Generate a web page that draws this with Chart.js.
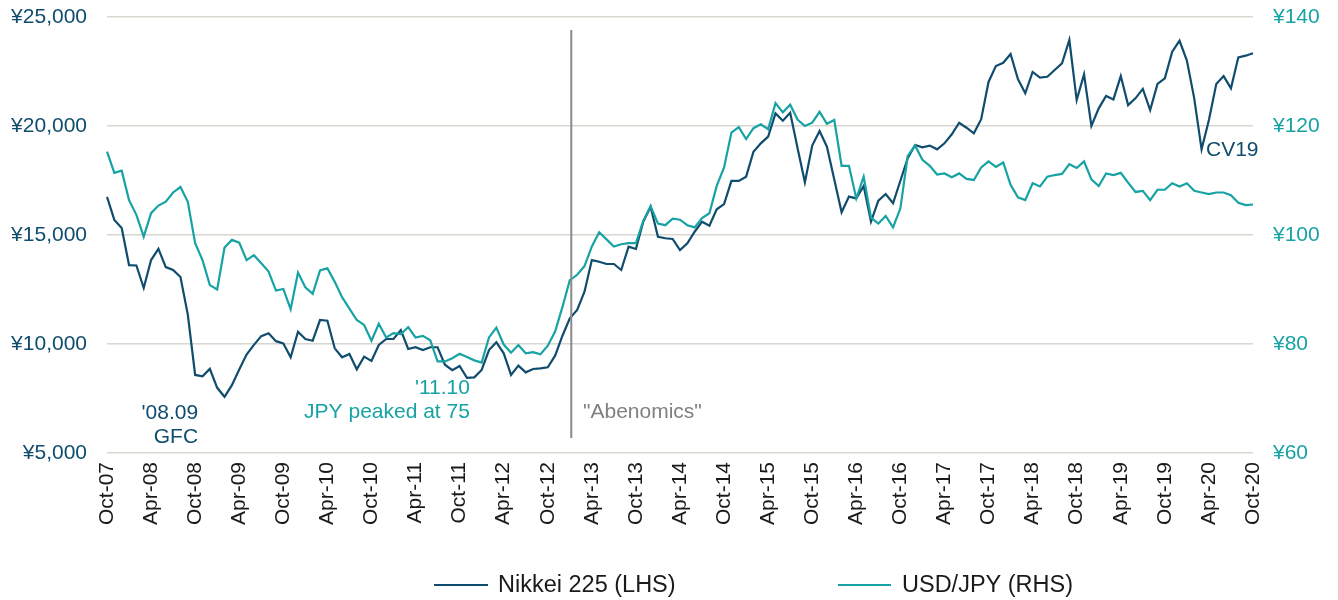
<!DOCTYPE html>
<html>
<head>
<meta charset="utf-8">
<script src="https://cdn.jsdelivr.net/npm/chart.js@4.4.0/dist/chart.umd.min.js"></script>
<style>
  html, body { margin: 0; padding: 0; background: #fff; }
</style>
</head>
<body>
<canvas id="Chart" width="1338" height="600"></canvas>
<script>
// monthly, Oct-07 .. Oct-20
const monthNames = ['Jan','Feb','Mar','Apr','May','Jun','Jul','Aug','Sep','Oct','Nov','Dec'];
const labels = [];
for (let i = 0; i < 157; i++) {
    let m = (9 + i) % 12;
    let yr = 7 + Math.floor((9 + i) / 12);
    labels.push(monthNames[m] + '-' + String(yr).padStart(2, '0'));
}

const nikkei = [
    16750, 15690, 15320,
    13620, 13600, 12570, 13850, 14360, 13530, 13400, 13070, 11350, 8580, 8520, 8860,
    7990, 7580, 8110, 8830, 9520, 9960, 10360, 10490, 10130, 10030, 9390, 10560,
    10230, 10150, 11100, 11070, 9800, 9390, 9540, 8840, 9420, 9220, 9955, 10230,
    10230, 10640, 9770, 9850, 9725, 9850, 9850, 9050, 8800, 8990, 8450, 8470,
    8810, 9725, 10080, 9575, 8580, 9005, 8700, 8855, 8885, 8930, 9465, 10380,
    11180, 11560, 12400, 13850, 13775, 13670, 13670, 13395, 14465, 14360, 15610, 16300,
    14920, 14850, 14820, 14310, 14620, 15150, 15610, 15430, 16180, 16420, 17480, 17480,
    17675, 18820, 19205, 19510, 20580, 20245, 20610, 18990, 17420, 19100, 19770, 19050,
    17550, 16040, 16760, 16680, 17250, 15610, 16575, 16880, 16455, 17490, 18520, 19130,
    19020, 19100, 18930, 19205, 19620, 20150, 19920, 19665, 20310, 22020, 22750, 22900,
    23300, 22150, 21500, 22480, 22220, 22260, 22570, 22875, 23945, 21190, 22370, 20000,
    20810, 21380, 21220, 22290, 20960, 21270, 21700, 20730, 21930, 22190, 23410, 23910,
    23000, 21270, 18930, 20275, 21930, 22290, 21730, 23150, 23225, 23335
];

const usdjpy = [
    115.3, 111.4, 111.8,
    106.4, 103.7, 99.7, 104.0, 105.4, 106.1, 107.8, 108.8, 106.1, 98.5, 95.4, 90.8,
    90.0, 97.7, 99.1, 98.6, 95.4, 96.3, 94.8, 93.3, 89.8, 90.1, 86.4, 93.1,
    90.4, 89.2, 93.5, 93.9, 91.4, 88.6, 86.5, 84.4, 83.5, 80.6, 83.7, 81.2,
    82.0, 81.8, 83.1, 81.2, 81.5, 80.7, 76.8, 76.8, 77.4, 78.2, 77.6, 77.0,
    76.6, 81.2, 83.0, 79.9, 78.4, 79.8, 78.3, 78.5, 78.1, 79.7, 82.3, 86.8,
    91.7, 92.7, 94.3, 97.9, 100.5, 99.2, 97.9, 98.3, 98.5, 98.5, 102.6, 105.3,
    102.1, 101.8, 103.0, 102.8, 101.8, 101.4, 103.1, 104.0, 109.0, 112.4, 118.8, 119.8,
    117.6, 119.6, 120.3, 119.4, 124.2, 122.5, 123.9, 121.2, 120.0, 120.6, 122.6, 120.4,
    121.1, 112.7, 112.7, 106.7, 110.7, 103.2, 102.1, 103.5, 101.4, 104.9, 114.5, 116.4,
    113.8, 112.7, 111.1, 111.3, 110.6, 111.3, 110.3, 110.1, 112.4, 113.5, 112.5, 113.3,
    109.2, 106.9, 106.4, 109.5, 108.9, 110.7, 111.0, 111.2, 113.0, 112.3, 113.5, 110.2,
    109.0, 111.3, 111.0, 111.4, 109.6, 107.9, 108.1, 106.4, 108.3, 108.3, 109.5, 108.9,
    109.5, 108.1, 107.8, 107.5, 107.8, 107.8, 107.3, 105.9, 105.5, 105.6
];

const leftTicks = [5000, 10000, 15000, 20000, 25000];
const rightTicks = [60, 80, 100, 120, 140];

const NAVY = '#0f4c6d';
const TEAL = '#17a2a4';
const FONT = '"Liberation Sans", Arial, sans-serif';

// notes drawn on top of the chart (x = month index, y = left axis value)
const notes = [
    { lines: ["'08.09", 'GFC'], x: 12.4, y: [6830, 5730], align: 'right', color: NAVY },
    { lines: ["'11.10", 'JPY peaked at 75'], x: 49.4, y: [7980, 6880], align: 'right', color: TEAL },
    { lines: ['CV19'], x: 149.6, y: [18900], align: 'left', color: NAVY },
    { lines: ['"Abenomics"'], x: 64.8, y: [6880], align: 'left', color: '#808080' }
];

const extras = {
    id: 'extras',
    afterDatasetsDraw(chart) {
        const c = chart.ctx, xs = chart.scales.x, ys = chart.scales.y;
        c.save();
        // Abenomics divider
        c.strokeStyle = '#8a8a8a';
        c.lineWidth = 2;
        c.beginPath();
        c.moveTo(xs.getPixelForValue(63.2), ys.getPixelForValue(24400));
        c.lineTo(xs.getPixelForValue(63.2), ys.getPixelForValue(5690));
        c.stroke();

        c.font = '21px ' + FONT;
        c.textBaseline = 'middle';
        notes.forEach(n => {
            c.fillStyle = n.color;
            c.textAlign = n.align;
            n.lines.forEach((t, i) => {
                c.fillText(t, xs.getPixelForValue(n.x), ys.getPixelForValue(n.y[i]));
            });
        });

        // legend
        const items = [[434, 488, 498], [838, 891, 902]];
        chart.data.datasets.forEach((ds, i) => {
            const it = items[i];
            c.strokeStyle = ds.borderColor;
            c.lineWidth = 2.2;
            c.beginPath();
            c.moveTo(it[0], 585);
            c.lineTo(it[1], 585);
            c.stroke();
            c.fillStyle = '#1a1a1a';
            c.textAlign = 'left';
            c.font = '23.5px ' + FONT;
            c.fillText(ds.label, it[2], 586);
        });
        c.restore();
    }
};

const ctx = document.getElementById('Chart').getContext('2d');
const myChart = new Chart(ctx, {
    type: 'line',
    data: {
        labels: labels,
        datasets: [{
            label: 'Nikkei 225 (LHS)',
            data: nikkei,
            yAxisID: 'y',
            borderColor: NAVY,
            backgroundColor: NAVY,
            borderWidth: 2.2,
            pointRadius: 0,
            tension: 0,
            order: 1
        }, {
            label: 'USD/JPY (RHS)',
            data: usdjpy,
            yAxisID: 'y1',
            borderColor: TEAL,
            backgroundColor: TEAL,
            borderWidth: 2.2,
            pointRadius: 0,
            tension: 0,
            order: 0
        }]
    },
    options: {
        responsive: false,
        animation: false,
        layout: { padding: { top: 17, left: 0, right: 0, bottom: 0 } },
        plugins: {
            legend: { display: false },
            tooltip: { enabled: false }
        },
        scales: {
            x: {
                grid: { display: false, drawTicks: false },
                border: { display: false },
                ticks: {
                    autoSkip: false,
                    maxRotation: 90,
                    minRotation: 90,
                    padding: 9,
                    color: '#1a1a1a',
                    font: { family: FONT, size: 21 },
                    callback: function (val, i) {
                        return i % 6 === 0 ? this.getLabelForValue(val) : null;
                    }
                },
                afterFit: s => { s.height = 147; }
            },
            y: {
                position: 'left',
                min: 5000,
                max: 25000,
                afterBuildTicks: s => { s.ticks = leftTicks.map(v => ({ value: v })); },
                grid: { color: '#d9d5cf', lineWidth: 1.5, drawTicks: false },
                border: { display: false },
                ticks: {
                    padding: 20,
                    color: NAVY,
                    font: { family: FONT, size: 21 },
                    callback: v => '¥' + v.toLocaleString('en-US')
                },
                afterFit: s => { s.width = 107; s.paddingTop = 0; s.paddingBottom = 0; }
            },
            y1: {
                position: 'right',
                min: 60,
                max: 140,
                afterBuildTicks: s => { s.ticks = rightTicks.map(v => ({ value: v })); },
                grid: { display: false, drawTicks: false },
                border: { display: false },
                ticks: {
                    padding: 20,
                    color: TEAL,
                    font: { family: FONT, size: 21 },
                    callback: v => '¥' + v
                },
                afterFit: s => { s.width = 85; s.paddingTop = 0; s.paddingBottom = 0; }
            }
        }
    },
    plugins: [extras]
});
</script>
</body>
</html>
